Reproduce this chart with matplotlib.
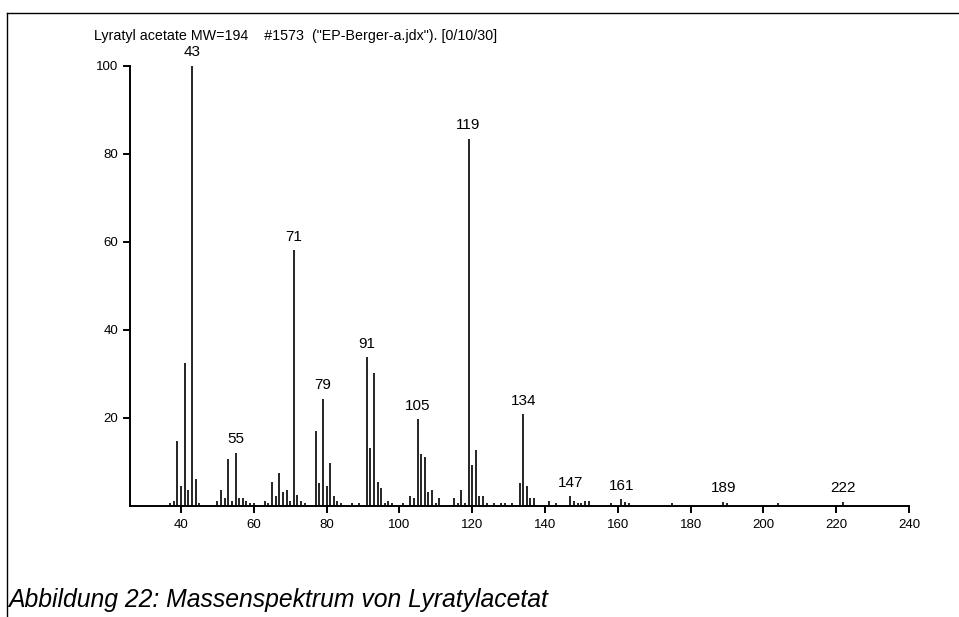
import matplotlib
matplotlib.use("Agg")
import matplotlib.pyplot as plt
from matplotlib.lines import Line2D

plt.rcParams['font.family'] = ['Liberation Sans', 'DejaVu Sans']

mz = [37, 38, 39, 40, 41, 42, 43, 44, 45,
      50, 51, 52, 53, 54, 55, 56, 57, 58, 59, 60,
      63, 64, 65, 66, 67, 68, 69, 70, 71, 72, 73, 74,
      77, 78, 79, 80, 81, 82, 83, 84, 87, 89,
      91, 92, 93, 94, 95, 96, 97, 98, 101, 103, 104, 105, 106, 107, 108, 109, 110, 111,
      115, 116, 117, 118, 119, 120, 121, 122, 123, 124, 126, 128, 129, 131,
      133, 134, 135, 136, 137, 141, 143, 147, 148, 149, 150, 151, 152,
      158, 161, 162, 163, 175, 189, 190, 204, 222]
intensity = [0.5, 1.1, 14.7, 4.5, 32.3, 3.6, 100.0, 6.1, 0.6,
             1.1, 3.6, 1.6, 10.6, 1.1, 12.0, 1.6, 1.6, 1.1, 0.6, 0.6,
             1.1, 0.6, 5.4, 2.2, 7.4, 3.1, 3.6, 1.1, 58.1, 2.4, 1.1, 0.6,
             17.0, 5.1, 24.3, 4.5, 9.7, 2.2, 1.1, 0.6, 0.6, 0.6,
             33.7, 13.1, 30.1, 5.4, 4.0, 0.6, 1.1, 0.6, 0.6, 2.2, 1.6, 19.7, 11.8, 11.1, 3.1, 3.6, 0.6, 1.6,
             1.6, 0.6, 3.6, 0.6, 83.4, 9.1, 12.7, 2.2, 2.2, 0.6, 0.6, 0.6, 0.6, 0.6,
             5.2, 20.7, 4.5, 1.6, 1.6, 1.1, 0.6, 2.1, 1.1, 0.6, 0.6, 1.1, 1.1,
             0.5, 1.4, 0.7, 0.5, 0.5, 0.9, 0.5, 0.5, 0.9]
labeled = [43, 55, 71, 79, 91, 105, 119, 134, 147, 161, 189, 222]
x_ticks = [40, 60, 80, 100, 120, 140, 160, 180, 200, 220, 240]
y_ticks = [20, 40, 60, 80, 100]

title = 'Lyratyl acetate MW=194    #1573  ("EP-Berger-a.jdx"). [0/10/30]'
caption = 'Abbildung 22: Massenspektrum von Lyratylacetat'

W, H = 959, 617
fig = plt.figure(figsize=(W / 100, H / 100), dpi=100)
ax = fig.add_axes([130 / W, (H - 505.5) / H, (909 - 130) / W, (505.5 - 65.7) / H])

ax.vlines(mz, 0, intensity, colors='black', linewidth=1.2)
ax.set_xlim(26.0, 240)
ax.set_ylim(0, 100)
ax.set_xticks(x_ticks)
ax.set_yticks(y_ticks)
for s in ['top', 'right']:
    ax.spines[s].set_visible(False)
for s in ['left', 'bottom']:
    ax.spines[s].set_linewidth(1.4)
ax.tick_params(axis='both', direction='out', length=5, width=1.4, labelsize=9.5)
ax.tick_params(axis='x', pad=4.5)

lookup = dict(zip(mz, intensity))
for m in labeled:
    ax.annotate(str(m), (m, lookup[m]), xytext=(0, 4.5), textcoords='offset points',
                ha='center', va='bottom', fontsize=11, clip_on=False)

fig.text(94 / W, 1 - 36 / H, title, ha='left', va='center', fontsize=10.3)
fig.text(8 / W, 1 - 600 / H, caption, ha='left', va='center', fontsize=17.8, style='italic')

fig.add_artist(Line2D([7 / W, 1.0], [1 - 13 / H, 1 - 13 / H], transform=fig.transFigure,
                      color='black', linewidth=1))
fig.add_artist(Line2D([7 / W, 7 / W], [1 - 13 / H, 0.0], transform=fig.transFigure,
                      color='black', linewidth=1))

fig.savefig('out.png', dpi=100)
